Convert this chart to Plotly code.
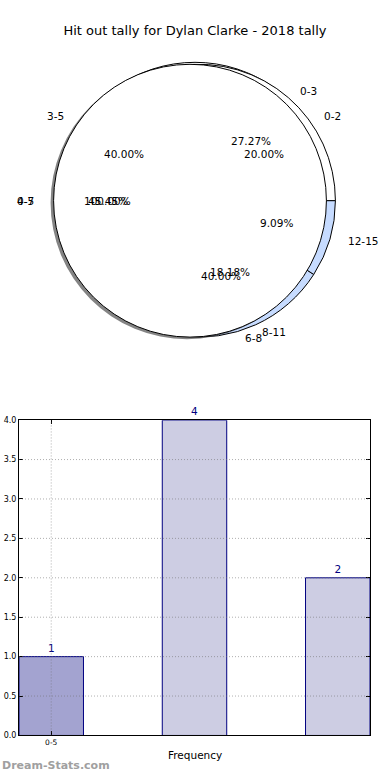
import math
import plotly.graph_objects as go

W, H = 390, 780

# ---------------- data ----------------
title_text = "Hit out tally for Dylan Clarke - 2018 tally"

pieA_labels = ["0-2", "3-5", "6-8"]
pieA_values = [1, 2, 2]
pieA_colors = ["#ffffff", "#ffffff", "#c6dbff"]

pieB_labels = ["0-3", "4-7", "8-11", "12-15"]
pieB_values = [3, 5, 2, 1]
pieB_colors = ["#ffffff", "#ffffff", "#c6dbff", "#c6dbff"]

pieC_labels = ["0-5"]
pieC_values = [1]
pieC_colors = ["#ffffff"]

bar_values = [1, 4, 2]
bar_colors = ["#a3a3d0", "#cdcde3", "#cdcde3"]
tick_labels = ["0-5"]

# ---------------- helpers ----------------
FONT = "DejaVu Sans"


def dom(cx, cy, r):
    return dict(x=[(cx - r) / W, (cx + r) / W], y=[1 - (cy + r) / H, 1 - (cy - r) / H])


def pie_trace(labels, values, colors, cx, cy, r, lw=1.0, lcolor="black"):
    # first slice starts at 3 o'clock and runs counterclockwise (matplotlib default)
    rot = 90 - 360.0 * values[0] / sum(values)
    return go.Pie(
        labels=labels, values=values, sort=False, direction="counterclockwise",
        rotation=rot, marker=dict(colors=colors, line=dict(color=lcolor, width=lw)),
        textinfo="none", hoverinfo="skip", showlegend=False, domain=dom(cx, cy, r),
    )


fig = go.Figure()
R = 138
fig.add_trace(pie_trace(pieA_labels, pieA_values, pieA_colors, 195, 197, R))
fig.add_trace(pie_trace(pieB_labels, pieB_values, pieB_colors, 199, 199, R))
# shadow of the top pie
fig.add_trace(pie_trace(pieC_labels, pieC_values, ["rgba(50,50,50,0.6)"], 187, 201, R, lw=0))
fig.add_trace(pie_trace(pieC_labels, pieC_values, pieC_colors, 190, 199, R))

# pie texts (matplotlib style: labels at 1.1r, pct at 0.6r)
TX, TY, RX, RY = 194, 199, 144, 133
annotations = []


def pie_texts(labels, values):
    total = sum(values)
    start = 0.0
    for lab, v in zip(labels, values):
        frac = v / total
        mid = math.radians(start + 360 * frac / 2)
        c, s = math.cos(mid), math.sin(mid)
        lx, ly = TX + 1.1 * RX * c, TY - 1.1 * RY * s
        px, py = TX + 0.6 * RX * c, TY - 0.6 * RY * s
        annotations.append(dict(x=lx / W, y=1 - ly / H, xref="paper", yref="paper", text=lab,
                                showarrow=False, xanchor="left" if c > 1e-9 else "right",
                                yanchor="middle", font=dict(family=FONT, size=10.5, color="black")))
        annotations.append(dict(x=px / W, y=1 - py / H, xref="paper", yref="paper",
                                text="%.2f%%" % (100 * frac), showarrow=False, xanchor="center",
                                yanchor="middle", font=dict(family=FONT, size=10.5, color="black")))
        start += 360 * frac


pie_texts(pieA_labels, pieA_values)
pie_texts(pieB_labels, pieB_values)
pie_texts(pieC_labels, pieC_values)

# ---------------- bar chart ----------------
bar_w = 0.45
bar_x = [i + bar_w / 2 for i in range(len(bar_values))]
fig.add_trace(go.Bar(
    x=bar_x, y=bar_values, width=bar_w, marker=dict(color=bar_colors, line=dict(color="#000080", width=1)),
    text=[str(v) for v in bar_values], textposition="outside", cliponaxis=False,
    textfont=dict(family=FONT, size=10.5, color="#000080"), hoverinfo="skip", showlegend=False,
    xaxis="x", yaxis="y",
))

xr = [0, len(bar_values) - 1 + bar_w]
yticks = [i * 0.5 for i in range(9)]
grid_line = dict(color="rgba(110,110,110,0.55)", width=1, dash="1px,2px")
shapes = []
for yv in yticks[1:-1]:
    shapes.append(dict(type="line", xref="x", yref="y", x0=xr[0], x1=xr[1], y0=yv, y1=yv,
                       line=grid_line, layer="above"))
for xv in bar_x[:len(tick_labels)]:
    shapes.append(dict(type="line", xref="x", yref="y", x0=xv, x1=xv, y0=0, y1=4,
                       line=grid_line, layer="above"))

annotations.append(dict(x=0.5 * (19 + 370) / W, y=1 - 760 / H, xref="paper", yref="paper", text="Frequency",
                        showarrow=False, xanchor="center", yanchor="middle",
                        font=dict(family=FONT, size=10.5, color="black")))
annotations.append(dict(x=0.0, y=1 - 770 / H, xref="paper", yref="paper", text="<b>Dream-Stats.com</b>",
                        showarrow=False, xanchor="left", yanchor="middle",
                        font=dict(family=FONT, size=11, color="#a0a0a0")))

fig.update_layout(
    width=W, height=H, margin=dict(l=0, r=0, t=0, b=0),
    paper_bgcolor="white", plot_bgcolor="white", showlegend=False,
    title=dict(text=title_text, x=0.5, xanchor="center", y=1 - 30 / H, yanchor="middle",
               font=dict(family=FONT, size=13, color="black")),
    xaxis=dict(domain=[19 / W, 370 / W], range=xr, tickvals=bar_x[:len(tick_labels)], ticktext=tick_labels,
               ticks="inside", ticklen=4, tickcolor="black", showline=True, linecolor="black", mirror="allticks",
               showgrid=False, zeroline=False, tickfont=dict(family=FONT, size=7.5, color="black"), fixedrange=True),
    yaxis=dict(domain=[1 - 740 / H, 1 - 421 / H], range=[0, 4], tickvals=yticks,
               ticktext=["%.1f" % v for v in yticks], ticks="inside", ticklen=4, tickcolor="black",
               showline=True, linecolor="black", mirror="allticks", showgrid=False, zeroline=False,
               tickfont=dict(family=FONT, size=8, color="black"), fixedrange=True),
    shapes=shapes, annotations=annotations,
    font=dict(family=FONT),
)

fig.write_html(
    "out.html", config={"displayModeBar": False},
    post_script=("document.body.style.margin='0';document.body.style.height='780px';"
                 "document.body.style.overflow='hidden';document.documentElement.style.overflow='hidden';"),
)
